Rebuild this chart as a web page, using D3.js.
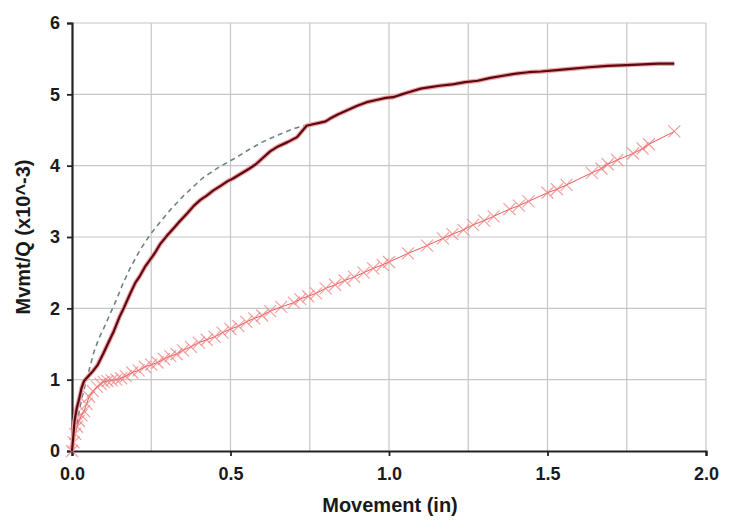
<!DOCTYPE html>
<html>
<head>
<meta charset="utf-8">
<script src="https://cdn.jsdelivr.net/npm/d3@7"></script>
<style>
  body { margin: 0; background: #fff; }
  text { font-family: "Liberation Sans", Arial, sans-serif; font-weight: bold; }
</style>
</head>
<body>
<div class="canvas"></div>
<script>
// measured curve (dark red)
const measX = [0, 0.004, 0.008, 0.015, 0.022, 0.03, 0.038, 0.05, 0.066, 0.08, 0.098, 0.115, 0.13, 0.15, 0.165, 0.183, 0.2, 0.215, 0.23, 0.246, 0.262, 0.278, 0.3, 0.32, 0.34, 0.363, 0.385, 0.405, 0.425, 0.445, 0.47, 0.49, 0.508, 0.53, 0.56, 0.58, 0.6, 0.625, 0.65, 0.68, 0.71, 0.725, 0.74, 0.76, 0.78, 0.8, 0.814, 0.84, 0.87, 0.9, 0.93, 0.96, 0.99, 1.013, 1.04, 1.07, 1.1, 1.13, 1.16, 1.2, 1.24, 1.28, 1.32, 1.36, 1.4, 1.44, 1.48, 1.53, 1.58, 1.63, 1.69, 1.75, 1.8, 1.85, 1.9];
const measY = [0, 0.2, 0.42, 0.6, 0.72, 0.88, 0.98, 1.04, 1.12, 1.2, 1.36, 1.52, 1.66, 1.88, 2.02, 2.2, 2.36, 2.46, 2.58, 2.68, 2.78, 2.9, 3.02, 3.12, 3.22, 3.33, 3.44, 3.52, 3.58, 3.65, 3.72, 3.78, 3.82, 3.88, 3.96, 4.02, 4.1, 4.2, 4.27, 4.33, 4.4, 4.48, 4.56, 4.58, 4.6, 4.62, 4.66, 4.72, 4.78, 4.84, 4.89, 4.92, 4.95, 4.96, 5.0, 5.04, 5.08, 5.1, 5.12, 5.14, 5.17, 5.19, 5.23, 5.26, 5.29, 5.31, 5.32, 5.34, 5.36, 5.38, 5.4, 5.41, 5.42, 5.43, 5.43];

// fitted curve (grey dashed)
const fitX = [0, 0.01, 0.02, 0.03, 0.04, 0.055, 0.07, 0.085, 0.1, 0.12, 0.142, 0.16, 0.183, 0.215, 0.246, 0.28, 0.31, 0.35, 0.413, 0.46, 0.52, 0.56, 0.6, 0.65, 0.7, 0.74];
const fitY = [0, 0.25, 0.5, 0.72, 0.9, 1.15, 1.4, 1.58, 1.72, 1.92, 2.14, 2.34, 2.56, 2.82, 3.03, 3.22, 3.38, 3.57, 3.83, 3.97, 4.12, 4.23, 4.33, 4.43, 4.52, 4.57];

// second series (red x markers)
const crossX = [0, 0.005, 0.01, 0.016, 0.022, 0.03, 0.038, 0.046, 0.054, 0.066, 0.079, 0.09, 0.1, 0.112, 0.125, 0.14, 0.155, 0.17, 0.19, 0.21, 0.23, 0.25, 0.27, 0.29, 0.31, 0.33, 0.35, 0.375, 0.4, 0.425, 0.45, 0.475, 0.5, 0.525, 0.55, 0.575, 0.6, 0.625, 0.66, 0.7, 0.72, 0.745, 0.77, 0.8, 0.83, 0.86, 0.89, 0.92, 0.95, 0.98, 1.0, 1.06, 1.12, 1.17, 1.2, 1.235, 1.265, 1.3, 1.33, 1.38, 1.41, 1.44, 1.5, 1.53, 1.56, 1.64, 1.67, 1.69, 1.72, 1.77, 1.8, 1.82, 1.9];
const crossY = [0, 0.12, 0.24, 0.34, 0.42, 0.5, 0.56, 0.66, 0.76, 0.84, 0.9, 0.94, 0.97, 0.98, 0.99, 1.0, 1.02, 1.05, 1.1, 1.13, 1.18, 1.21, 1.24, 1.29, 1.33, 1.36, 1.41, 1.46, 1.52, 1.56, 1.6, 1.66, 1.71, 1.75, 1.81, 1.86, 1.9, 1.96, 2.02, 2.08, 2.13, 2.17, 2.21, 2.28, 2.33, 2.39, 2.44, 2.5, 2.56, 2.61, 2.65, 2.77, 2.88, 2.98, 3.04, 3.1, 3.17, 3.23, 3.29, 3.39, 3.44, 3.5, 3.62, 3.67, 3.73, 3.9, 3.96, 4.02, 4.08, 4.17, 4.24, 4.3, 4.48];

const xTicks = [0, 0.5, 1.0, 1.5, 2.0];
const xGrid = [0.25, 0.5, 0.75, 1.0, 1.25, 1.5, 1.75, 2.0];
const yTicks = [0, 1, 2, 3, 4, 5, 6];

const dims = { width: 736, height: 520 };
const margin = { left: 72, right: 30, top: 23, bottom: 69 };

const svg = d3
  .select(".canvas")
  .append("svg")
  .attr("width", dims.width)
  .attr("height", dims.height);

const x = d3.scaleLinear().domain([0, 2]).range([margin.left, dims.width - margin.right]);
const y = d3.scaleLinear().domain([0, 6]).range([dims.height - margin.bottom, margin.top]);

// grid
svg.append("g")
  .selectAll("line")
  .data(xGrid)
  .join("line")
  .attr("x1", (d) => x(d)).attr("x2", (d) => x(d))
  .attr("y1", y(0)).attr("y2", y(6))
  .attr("stroke", "#c6c6c6").attr("stroke-width", 1.2);

svg.append("g")
  .selectAll("line")
  .data(yTicks.slice(1))
  .join("line")
  .attr("x1", x(0)).attr("x2", x(2))
  .attr("y1", (d) => y(d)).attr("y2", (d) => y(d))
  .attr("stroke", "#c6c6c6").attr("stroke-width", 1.2);

// axes
const xAxis = svg.append("g")
  .attr("transform", `translate(0,${y(0)})`)
  .call(d3.axisBottom(x).tickValues(xTicks).tickFormat(d3.format(".1f")).tickSize(5).tickPadding(11));

const yAxis = svg.append("g")
  .attr("transform", `translate(${x(0)},0)`)
  .call(d3.axisLeft(y).tickValues(yTicks).tickFormat(d3.format("d")).tickSize(5).tickPadding(7));

[xAxis, yAxis].forEach((g) => {
  g.select(".domain").attr("stroke", "#222").attr("stroke-width", 2.2);
  g.selectAll(".tick line").attr("stroke", "#222").attr("stroke-width", 1.8);
  g.selectAll("text")
    .attr("fill", "#1a1a1a")
    .style("font-size", "18px")
    .style("font-family", "'Liberation Sans', Arial, sans-serif")
    .style("font-weight", "bold");
});

// axis titles
svg.append("text")
  .attr("x", 390).attr("y", 512)
  .attr("text-anchor", "middle")
  .attr("fill", "#1a1a1a")
  .style("font-size", "20px")
  .text("Movement (in)");

svg.append("text")
  .attr("transform", `translate(30,${(y(0) + y(6)) / 2}) rotate(-90)`)
  .attr("text-anchor", "middle")
  .attr("fill", "#1a1a1a")
  .style("font-size", "20px")
  .text("Mvmt/Q (x10^-3)");

const line = d3.line().x((d) => x(d[0])).y((d) => y(d[1]));

const meas = measX.map((v, i) => [v, measY[i]]);
const fit = fitX.map((v, i) => [v, fitY[i]]);
const cross = crossX.map((v, i) => [v, crossY[i]]);

// x-marker series
svg.append("path")
  .attr("d", line(cross))
  .attr("fill", "none")
  .attr("stroke", "#e85a5a")
  .attr("stroke-width", 1);

const s = 6;
svg.append("g")
  .selectAll("path")
  .data(cross)
  .join("path")
  .attr("d", (d) => {
    const cx = x(d[0]), cy = y(d[1]);
    return `M${cx - s},${cy - s}L${cx + s},${cy + s}M${cx - s},${cy + s}L${cx + s},${cy - s}`;
  })
  .attr("stroke", "#f07878")
  .attr("stroke-opacity", 0.7)
  .attr("stroke-width", 1.2)
  .attr("fill", "none");

// dashed fit
svg.append("path")
  .attr("d", line(fit))
  .attr("fill", "none")
  .attr("stroke", "#6f8585")
  .attr("stroke-width", 1.6)
  .attr("stroke-dasharray", "5,4");

// measured: pink halo + dark line
svg.append("path")
  .attr("d", line(meas))
  .attr("fill", "none")
  .attr("stroke", "#f2a0a0")
  .attr("stroke-width", 4.5)
  .attr("stroke-linejoin", "round");

svg.append("path")
  .attr("d", line(meas))
  .attr("fill", "none")
  .attr("stroke", "#5a0a14")
  .attr("stroke-width", 2.2)
  .attr("stroke-linejoin", "round");
</script>
</body>
</html>
